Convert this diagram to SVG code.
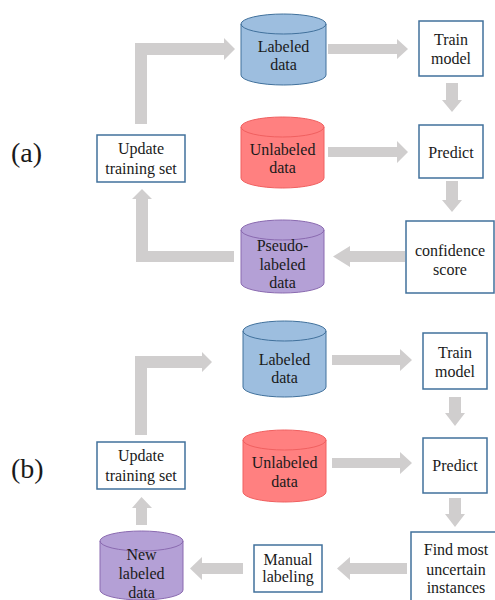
<svg xmlns="http://www.w3.org/2000/svg" width="495" height="600" viewBox="0 0 495 600">
<style>
text{font-family:"Liberation Serif","Times New Roman",serif;font-size:16px;fill:#1a1a1a;text-anchor:middle}
.lbl{font-size:28px;text-anchor:start}
.box{fill:#fff;stroke:#41719c;stroke-width:1.5}
.arr{fill:#d0cece}
.blue{fill:#9dbedf;stroke:#41719c;stroke-width:1}
.red{fill:#ff8080;stroke:#f06060;stroke-width:1}
.purple{fill:#b4a0d6;stroke:#8a6ab0;stroke-width:1}
.rim{fill:none}
</style>
<rect width="495" height="600" fill="#fff"/>
<text class="lbl" x="11" y="162">(a)</text>
<text class="lbl" x="11" y="478">(b)</text>
<g id="connectors">
<polygon class="arr" points="135,124 135,43 224,43 224,38 235,49 224,60 224,55 147,55 147,124"/>
<polygon class="arr" points="234,251 148,251 148,199 152,199 142,189 132,199 136,199 136,262 234,262"/>
<polygon class="arr" points="328,44 397,44 397,39 408,49 397,59 397,54 328,54"/>
<polygon class="arr" points="328,147 397,147 397,141 408,152 397,163 397,157 328,157"/>
<polygon class="arr" points="446,83 458,83 458,100 462,100 452,112 442,100 446,100"/>
<polygon class="arr" points="446,181 458,181 458,200 462,200 452,212 442,200 446,200"/>
<polygon class="arr" points="405,251 350,251 350,246 333,256.5 350,267 350,262 405,262"/>
<polygon class="arr" points="135,435 135,356 202,356 202,352 212,362 202,372 202,368 147,368 147,435"/>
<polygon class="arr" points="332,355 400,355 400,349 412,360 400,371 400,365 332,365"/>
<polygon class="arr" points="332,458 400,458 400,452 412,463 400,474 400,468 332,468"/>
<polygon class="arr" points="449,397 461,397 461,413 465,413 455,426 445,413 449,413"/>
<polygon class="arr" points="449,498 461,498 461,514 465,514 455,527 445,514 449,514"/>
<polygon class="arr" points="407,563 350,563 350,557 337,568.5 350,580 350,574 407,574"/>
<polygon class="arr" points="243,563 202,563 202,557 190,568.5 202,580 202,574 243,574"/>
<polygon class="arr" points="136,525 136,508 132,508 141.5,497 152,508 147,508 147,525"/>
</g>
<g id="a-update"><rect class="box" x="97" y="135" width="88" height="47"/><text x="141" y="154">Update</text><text x="141" y="174">training set</text></g>
<g id="a-labeled"><path class="blue" d="M241,24 a42.5,10 0 0 1 85,0 V75 a42.5,10 0 0 1 -85,0 Z"/><path class="blue rim" d="M241,24 a42.5,10 0 0 0 85,0"/><text x="283.5" y="52">Labeled</text><text x="283.5" y="70">data</text></g>
<g id="a-unlabeled"><path class="red" d="M241,127 a41.5,10 0 0 1 83,0 V178 a41.5,10 0 0 1 -83,0 Z"/><path class="red rim" d="M241,127 a41.5,10 0 0 0 83,0"/><text x="282.5" y="155">Unlabeled</text><text x="282.5" y="173">data</text></g>
<g id="a-pseudo"><path class="purple" d="M241,230 a41.5,10 0 0 1 83,0 V283 a41.5,10 0 0 1 -83,0 Z"/><path class="purple rim" d="M241,230 a41.5,10 0 0 0 83,0"/><text x="282.5" y="251">Pseudo-</text><text x="282.5" y="270">labeled</text><text x="282.5" y="288">data</text></g>
<g id="a-train"><rect class="box" x="419" y="21" width="64" height="55"/><text x="451" y="45">Train</text><text x="451" y="64">model</text></g>
<g id="a-predict"><rect class="box" x="419" y="125" width="64" height="53"/><text x="451" y="158">Predict</text></g>
<g id="a-confidence"><rect class="box" x="406" y="221" width="88" height="72"/><text x="450" y="256">confidence</text><text x="450" y="275">score</text></g>
<g id="b-update"><rect class="box" x="97" y="442" width="88" height="47"/><text x="141" y="461">Update</text><text x="141" y="481">training set</text></g>
<g id="b-labeled"><path class="blue" d="M243,331 a41.5,10 0 0 1 83,0 V387 a41.5,10 0 0 1 -83,0 Z"/><path class="blue rim" d="M243,331 a41.5,10 0 0 0 83,0"/><text x="284.5" y="365">Labeled</text><text x="284.5" y="383">data</text></g>
<g id="b-unlabeled"><path class="red" d="M243,440 a41.5,10 0 0 1 83,0 V492 a41.5,10 0 0 1 -83,0 Z"/><path class="red rim" d="M243,440 a41.5,10 0 0 0 83,0"/><text x="284.5" y="468">Unlabeled</text><text x="284.5" y="487">data</text></g>
<g id="b-train"><rect class="box" x="423" y="333" width="64" height="56"/><text x="455" y="358">Train</text><text x="455" y="377">model</text></g>
<g id="b-predict"><rect class="box" x="423" y="438" width="64" height="55"/><text x="455" y="471">Predict</text></g>
<g id="b-find"><rect class="box" x="411" y="532" width="90" height="75"/><text x="456" y="555">Find most</text><text x="456" y="575">uncertain</text><text x="456" y="593">instances</text></g>
<g id="b-manual"><rect class="box" x="254" y="545" width="68" height="47"/><text x="288" y="565">Manual</text><text x="288" y="582">labeling</text></g>
<g id="b-new"><path class="purple" d="M100,541 a41.5,10 0 0 1 83,0 V590 a41.5,10 0 0 1 -83,0 Z"/><path class="purple rim" d="M100,541 a41.5,10 0 0 0 83,0"/><text x="141.5" y="560">New</text><text x="141.5" y="579">labeled</text><text x="141.5" y="598">data</text></g>
</svg>
